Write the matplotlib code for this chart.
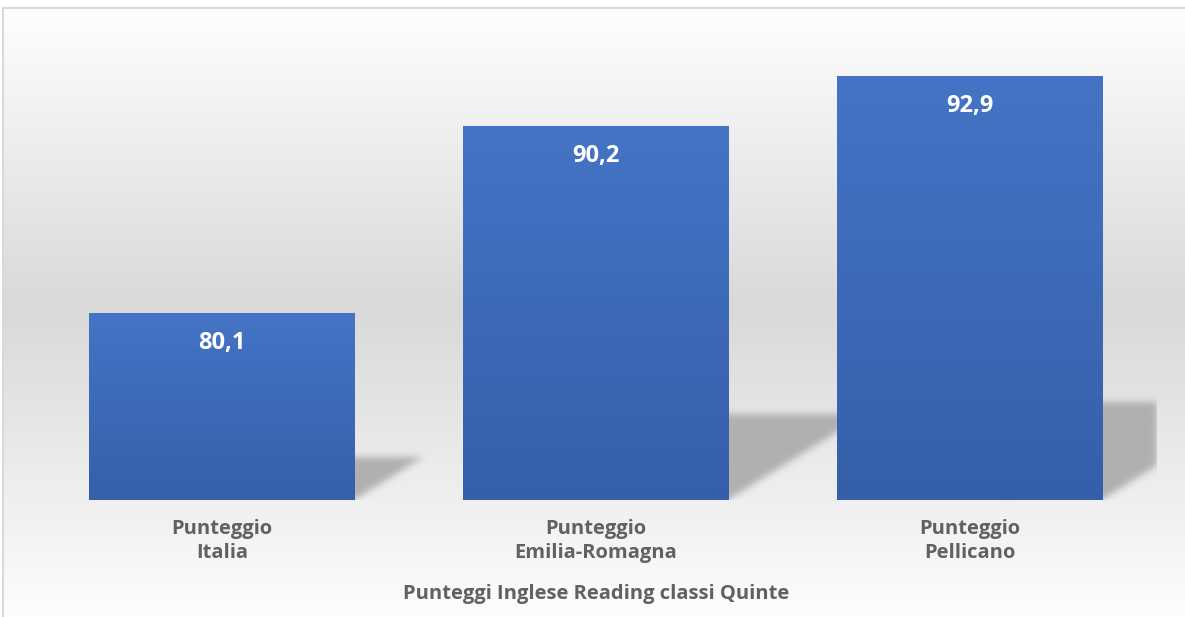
import numpy as np
import matplotlib
matplotlib.use("Agg")
import matplotlib.pyplot as plt
from matplotlib.colors import LinearSegmentedColormap

# ---- data ----
categories = ["Punteggio\nItalia", "Punteggio\nEmilia-Romagna", "Punteggio\nPellicano"]
values = [80.1, 90.2, 92.9]
axis_title = "Punteggi Inglese Reading classi Quinte"
y_min, y_max = 70, 95

W, H = 1185, 617
fig = plt.figure(figsize=(W / 100, H / 100), dpi=100)
fig.patch.set_facecolor("white")

# ---- chart-area background gradient ----
bg = fig.add_axes([3 / W, 0, 1 - 3 / W, (H - 8) / H])
bg.set_zorder(0)
n = 609
yy = np.arange(n)
peak = 300
grad = np.where(yy < peak,
                254 - (254 - 217) * yy / peak,
                217 + (253 - 217) * (yy - peak) / (n - 1 - peak)) / 255.0
img = np.repeat(grad[:, None], 2, axis=1)
img = np.dstack([img, img, img])
bg.imshow(img, aspect="auto", extent=(0, 1, 0, 1), origin="upper", interpolation="bilinear")
bg.set_xlim(0, 1); bg.set_ylim(0, 1)
bg.set_xticks([]); bg.set_yticks([])
for s in ["right", "bottom"]:
    bg.spines[s].set_visible(False)
for s in ["top", "left"]:
    bg.spines[s].set_color("#d9d9d9")
    bg.spines[s].set_linewidth(1.5)

# ---- main axes ----
ax = fig.add_axes([35 / W, 117 / H, 1122 / W, 462.5 / H])
ax.set_zorder(1)
ax.patch.set_alpha(0)
x = np.arange(len(values))
bw = 0.71
ax.set_xlim(-0.5, 2.5)
ax.set_ylim(y_min, y_max)

# ---- perspective shadows (blurred) ----
nx, ny = 1122, 463
xs = np.linspace(-0.5, 2.5, nx)
ys = np.linspace(y_min, y_max, ny)
XX, YY = np.meshgrid(xs, ys)
mask = np.zeros_like(XX)
px_per_x = nx / 3.0
px_per_y = ny / (y_max - y_min)
for xi, v in zip(x, values):
    hd = 0.23 * (v - y_min)
    dx = 1.6 * hd * px_per_y / px_per_x
    t = (YY - y_min) / hd
    inside = (t >= 0) & (t <= 1) & (XX >= xi - bw / 2 + dx * t) & (XX <= xi + bw / 2 + dx * t)
    mask[inside] = 1.0

def blur(a, sigma):
    r = int(3 * sigma)
    k = np.exp(-0.5 * (np.arange(-r, r + 1) / sigma) ** 2)
    k /= k.sum()
    a = np.apply_along_axis(lambda m: np.convolve(m, k, mode="same"), 0, a)
    a = np.apply_along_axis(lambda m: np.convolve(m, k, mode="same"), 1, a)
    return a

mask = blur(mask, 3.5)
sh = np.zeros((ny, nx, 4))
sh[..., :3] = 0.68
sh[..., 3] = np.clip(mask, 0, 1) * 0.95
ax.imshow(sh, extent=(-0.5, 2.5, y_min, y_max), origin="lower", aspect="auto",
          zorder=1, interpolation="bilinear")

# ---- bars with vertical gradient ----
cmap = LinearSegmentedColormap.from_list("bar", ["#355fa9", "#4574c6"])
bars = ax.bar(x, np.array(values) - y_min, bottom=y_min, width=bw, color="#3d68b8",
              zorder=2, linewidth=0)
for b, v in zip(bars, values):
    g = np.linspace(0, 1, 256)[:, None]
    im = ax.imshow(g, cmap=cmap, origin="lower", aspect="auto",
                   extent=(b.get_x(), b.get_x() + b.get_width(), y_min, v), zorder=3)
    im.set_clip_path(b)

for xi, v in zip(x, values):
    ax.annotate(f"{v:.1f}".replace(".", ","), (xi, v), xytext=(0, -30),
                textcoords="offset pixels", ha="center", va="center",
                color="white", fontsize=17, fontweight="bold", family="Open Sans", zorder=5)

ax.set_xlim(-0.5, 2.5)
ax.set_ylim(y_min, y_max)
ax.set_yticks([])
ax.set_xticks(x)
ax.set_xticklabels(categories, fontsize=14.5, fontweight="bold", color="#616161",
                   family="Open Sans", linespacing=1.25)
ax.tick_params(axis="x", length=0, pad=14)
for s in ax.spines.values():
    s.set_visible(False)

fig.text((400 + 793) / 2 / W, 1 - 594 / H, axis_title, ha="center", va="center",
         fontsize=14.5, fontweight="bold", color="#616161", family="Open Sans")

fig.savefig("out.png", dpi=100)
